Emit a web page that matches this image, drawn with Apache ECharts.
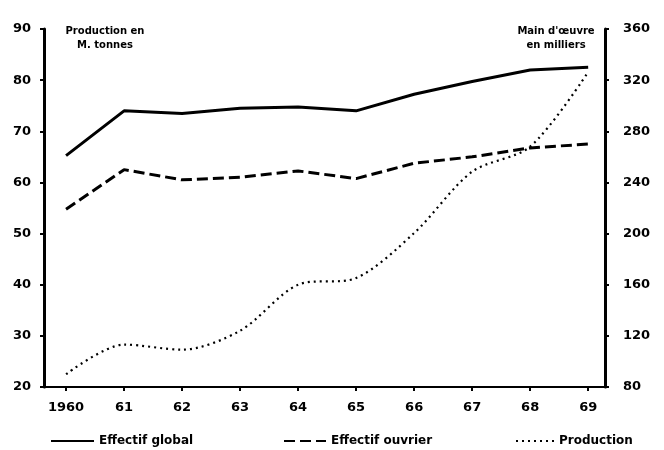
<!DOCTYPE html>
<html>
<head>
<meta charset="utf-8">
<script src="https://cdn.jsdelivr.net/npm/echarts@6/dist/echarts.min.js"></script>
<style>html,body{margin:0;padding:0;background:#fff}#c{width:664px;height:450px}</style>
</head>
<body>
<div id="c"></div>
<script>
const categories = ['1960','61','62','63','64','65','66','67','68','69'];
const effectifGlobal = [261, 296, 294, 298, 299, 296, 309, 319, 328, 330];
const effectifOuvrier = [219, 250, 242, 244, 249, 243, 255, 260, 267, 270];
const production = [22.5, 28.3, 27.3, 31, 40, 41.3, 50.1, 62.1, 67, 81.6];
const leftTicks = [20, 30, 40, 50, 60, 70, 80, 90];
const rightTicks = [80, 120, 160, 200, 240, 280, 320, 360];
const leftAxisTitle = 'Production en\nM. tonnes';
const rightAxisTitle = "Main d'œuvre\nen milliers";

const FONT = '"DejaVu Sans",sans-serif';
const pairs = arr => arr.map((v, i) => [i, v]);
const catIdx = categories.map((c, i) => i);

const chart = echarts.init(document.getElementById('c'));
const lbl = {color: '#000', fontFamily: FONT, fontWeight: 'bold', fontSize: 13};
const legText = {color: '#000', fontFamily: FONT, fontWeight: 'bold', fontSize: 12};
const nameStyle = {color: '#000', fontFamily: FONT, fontWeight: 'bold', fontSize: 10, lineHeight: 14};
chart.setOption({
  animation: false,
  backgroundColor: '#fff',
  title: [
    {text: leftAxisTitle, left: 100, top: 19, textAlign: 'center', textStyle: nameStyle},
    {text: rightAxisTitle, left: 551, top: 19, textAlign: 'center', textStyle: nameStyle}
  ],
  grid: {left: 44, right: 59, top: 29, bottom: 63, containLabel: false, outerBoundsMode: 'none'},
  xAxis: {
    type: 'value', min: -0.38, max: 9.29,
    splitLine: {show: false},
    axisLine: {show: true, onZero: false, lineStyle: {color: '#000', width: 2}},
    axisTick: {show: true, length: 4, customValues: catIdx, lineStyle: {color: '#000', width: 2}},
    axisLabel: Object.assign({}, lbl, {margin: 14, customValues: catIdx,
      formatter: v => categories[Math.round(v)] || ''})
  },
  yAxis: [{
    type: 'value', min: leftTicks[0], max: leftTicks[leftTicks.length-1], interval: 10,
    position: 'left',
    splitLine: {show: false},
    axisLine: {show: true, onZero: false, lineStyle: {color: '#000', width: 3}},
    axisTick: {show: true, length: 4, lineStyle: {color: '#000', width: 2}},
    axisLabel: Object.assign({}, lbl, {margin: 13, padding: [0,0,7,0]})
  }, {
    type: 'value', min: rightTicks[0], max: rightTicks[rightTicks.length-1], interval: 40,
    position: 'right',
    splitLine: {show: false},
    axisLine: {show: true, onZero: false, lineStyle: {color: '#000', width: 3}},
    axisTick: {show: true, length: 4, lineStyle: {color: '#000', width: 2}},
    axisLabel: Object.assign({}, lbl, {margin: 18, padding: [0,0,7,0]})
  }],
  legend: [
    {data: ['Effectif global'], left: 45, top: 430, itemWidth: 43, itemHeight: 12, itemGap: 4,
     itemStyle: {opacity: 0}, textStyle: legText},
    {data: ['Effectif ouvrier'], left: 278, top: 430, itemWidth: 42, itemHeight: 12,
     itemStyle: {opacity: 0}, textStyle: legText},
    {data: ['Production'], left: 510, top: 430, itemWidth: 38, itemHeight: 12,
     itemStyle: {opacity: 0}, textStyle: legText}
  ],
  series: [{
    name: 'Effectif global', type: 'line', yAxisIndex: 1, data: pairs(effectifGlobal),
    symbol: 'none', lineStyle: {color: '#000', width: 3}, itemStyle: {color: '#000'}
  }, {
    name: 'Effectif ouvrier', type: 'line', yAxisIndex: 1, data: pairs(effectifOuvrier),
    symbol: 'none', lineStyle: {color: '#000', width: 3, type: [11, 5]}, itemStyle: {color: '#000'}
  }, {
    name: 'Production', type: 'line', yAxisIndex: 0, data: pairs(production),
    symbol: 'none', smooth: 0.3, lineStyle: {color: '#000', width: 2.2, type: [2, 4]}, itemStyle: {color: '#000'}
  }]
});
</script>
</body>
</html>
